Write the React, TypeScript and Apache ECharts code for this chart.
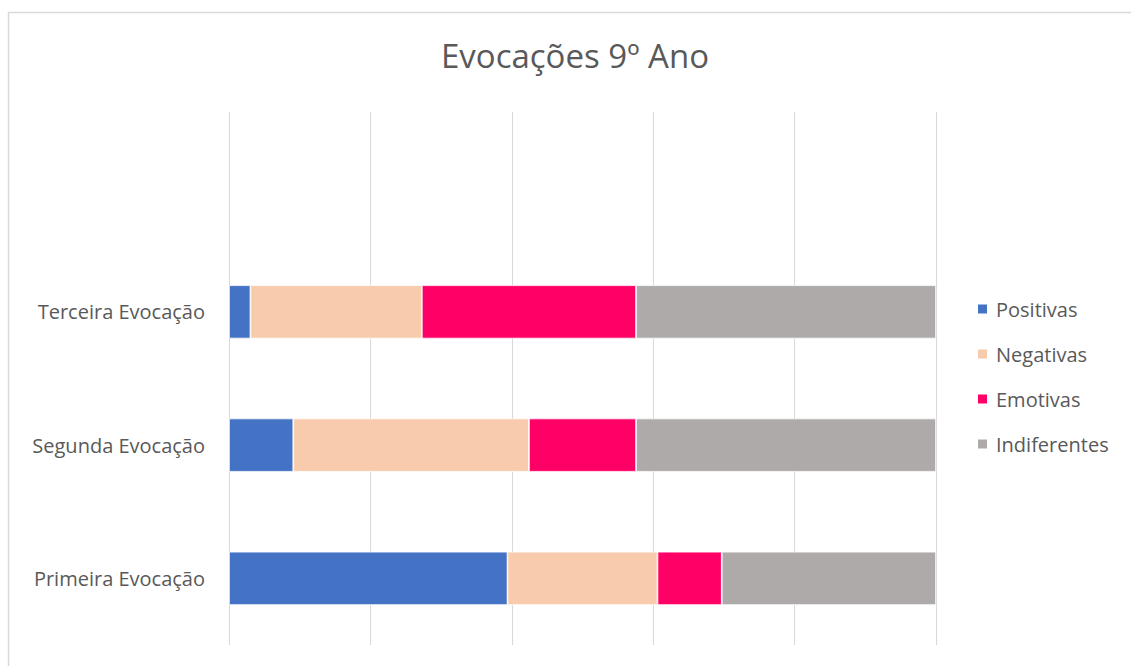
import React, { useEffect, useRef } from "react";
import * as echarts from "echarts";

const categories = ["Primeira Evocação", "Segunda Evocação", "Terceira Evocação", ""];
const seriesNames = ["Positivas", "Negativas", "Emotivas", "Indiferentes"];
const positivas = [13, 3, 1];
const negativas = [7, 11, 8];
const emotivas = [3, 5, 10];
const indiferentes = [10, 14, 14];
const colors = ["#4472C4", "#F8CBAD", "#FF0066", "#AEAAAA"];

const FONT = "Open Sans";

export default function App() {
  const ref = useRef<HTMLDivElement>(null);
  useEffect(() => {
    if (!ref.current) return;
    const chart = echarts.init(ref.current, null, { renderer: "svg" });
    const raw = [positivas, negativas, emotivas, indiferentes];
    const totals = positivas.map((_, i) => raw.reduce((s, arr) => s + arr[i], 0));
    const series = raw.map((arr, k) => ({
      name: seriesNames[k],
      type: "bar",
      stack: "total",
      barWidth: "40%",
      itemStyle: { color: colors[k], borderColor: "#ffffff", borderWidth: 0.75 },
      data: arr.map((v, i) => (v / totals[i]) * 100),
    }));
    chart.setOption({
      animation: false,
      backgroundColor: "#ffffff",
      textStyle: { fontFamily: FONT },
      title: {
        text: "Evocações 9º Ano",
        left: 436,
        top: 34,
        textStyle: { fontFamily: FONT, fontSize: 33, fontWeight: "normal", color: "#595959" },
      },
      graphic: [
        {
          type: "rect",
          shape: { x: 8.5, y: 12.5, width: 1200, height: 800 },
          style: { fill: "none", stroke: "#d9d9d9", lineWidth: 1.5 },
          silent: true,
        },
      ],
      legend: {
        orient: "vertical",
        left: 971,
        top: 294,
        itemWidth: 11,
        itemHeight: 11,
        itemGap: 25,
        icon: "rect",
        textStyle: { fontFamily: FONT, fontSize: 20, color: "#595959", padding: [0, 0, 0, 3] },
        data: seriesNames,
      },
      grid: { left: 229, right: 195, top: 112, bottom: 21, containLabel: false },
      xAxis: {
        type: "value",
        min: 0,
        max: 100,
        interval: 20,
        axisLabel: { show: false },
        axisLine: { show: false },
        axisTick: { show: false },
        splitLine: { show: true, lineStyle: { color: "#d9d9d9", width: 1 } },
      },
      yAxis: {
        type: "category",
        data: categories,
        axisLine: { show: false },
        axisTick: { show: false },
        axisLabel: { fontFamily: FONT, fontSize: 20, color: "#595959", margin: 24 },
      },
      series,
    });
    return () => chart.dispose();
  }, []);
  return (
    <div
      ref={ref}
      style={{ position: "fixed", left: 0, top: 0, width: 1131, height: 666 }}
    />
  );
}
